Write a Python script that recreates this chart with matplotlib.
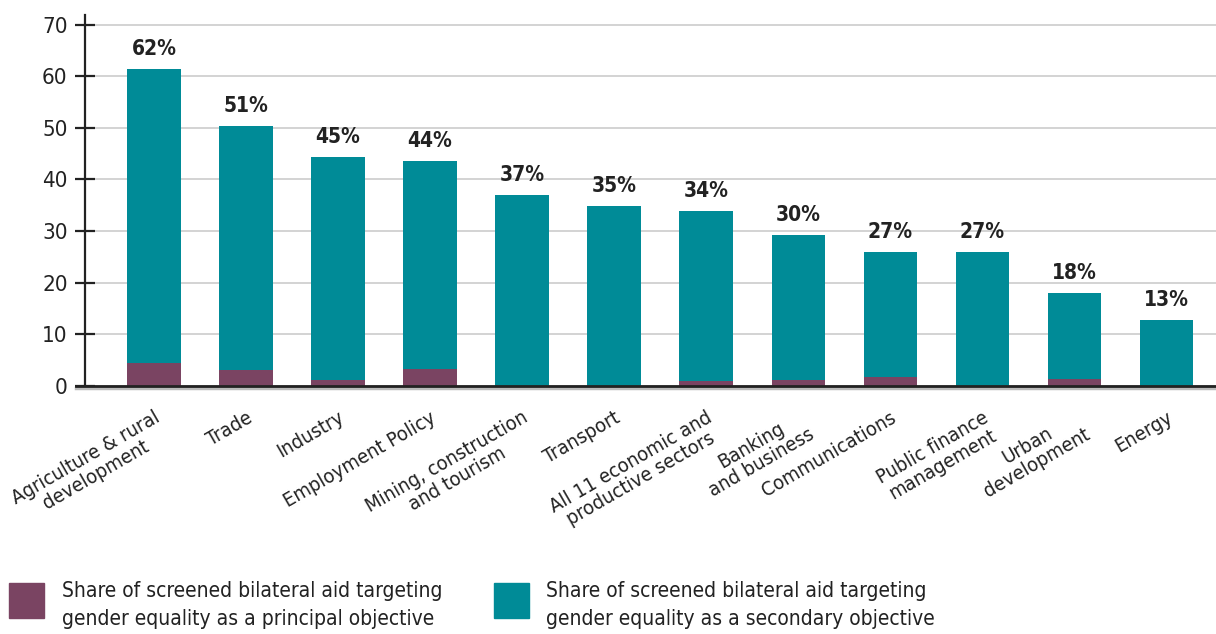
import matplotlib
matplotlib.use("Agg")
import matplotlib.pyplot as plt
from matplotlib.patches import Rectangle
import numpy as np

categories = [
    "Agriculture & rural\ndevelopment", "Trade", "Industry", "Employment Policy",
    "Mining, construction\nand tourism", "Transport", "All 11 economic and\nproductive sectors",
    "Banking\nand business", "Communications", "Public finance\nmanagement",
    "Urban\ndevelopment", "Energy",
]
total = [61.5, 50.4, 44.4, 43.6, 37.0, 34.9, 33.9, 29.3, 26.0, 26.0, 18.0, 12.8]
principal = [4.4, 3.1, 1.2, 3.2, 0.0, 0.0, 0.9, 1.2, 1.6, 0.0, 1.3, 0.0]
labels = ["62%", "51%", "45%", "44%", "37%", "35%", "34%", "30%", "27%", "27%", "18%", "13%"]
yticks = [0, 10, 20, 30, 40, 50, 60, 70]
legend_labels = [
    "Share of screened bilateral aid targeting\ngender equality as a principal objective",
    "Share of screened bilateral aid targeting\ngender equality as a secondary objective",
]

TEAL = "#008B97"
PURPLE = "#7A4462"
plt.rcParams["font.family"] = ["DejaVu Sans"]
plt.rcParams["font.stretch"] = "condensed"

secondary = [t - p for t, p in zip(total, principal)]
x = np.arange(len(categories))

fig = plt.figure(figsize=(12.16, 6.34), dpi=100)
ax = fig.add_axes([85 / 1216, 1 - 385.7 / 634, 1 - 85 / 1216, (385.7 - 14.5) / 634])

ax.bar(x, principal, width=0.58, color=PURPLE, zorder=3)
ax.bar(x, secondary, width=0.58, bottom=principal, color=TEAL, zorder=3)

for xi, t, lab in zip(x, total, labels):
    ax.annotate(lab, (xi, t), xytext=(0, 7), textcoords="offset points",
                ha="center", va="bottom", fontsize=15, fontweight="bold", color="#222222")

ax.set_xlim(-0.75, 11.54)
ax.set_ylim(0, 72)
ax.set_yticks(yticks)
ax.set_yticklabels([str(v) for v in yticks], fontsize=16, color="#222222")
ax.yaxis.grid(True, color="#cccccc", linewidth=1.2, zorder=0)
ax.tick_params(axis="y", direction="inout", length=15, width=1.6, color="#222222", pad=5)
ax.set_xticks(x)
ax.set_xticklabels(categories, rotation=30, ha="right", va="top", rotation_mode="anchor",
                   fontsize=14.5, color="#222222", multialignment="center")
ax.tick_params(axis="x", length=0, pad=16)
for lbl in ax.get_xticklabels():
    lbl.set_linespacing(1.05)

for s in ["top", "right", "bottom"]:
    ax.spines[s].set_visible(False)
ax.spines["left"].set_linewidth(1.6)
ax.spines["left"].set_color("#222222")

ax.axhline(-0.35, xmin=-0.008, xmax=1, color="#bbbbbb", linewidth=2.5, clip_on=False, zorder=4)
ax.axhline(0, xmin=-0.008, xmax=1, color="#222222", linewidth=2.0, clip_on=False, zorder=5)

# legend
W, H = 1216, 634
for (px, tx), col, lab in zip([(9, 62), (494, 546)], [PURPLE, TEAL], legend_labels):
    fig.add_artist(Rectangle((px / W, 1 - 618 / H), 35 / W, 35 / H,
                             transform=fig.transFigure, color=col))
    fig.text(tx / W, 1 - 605 / H, lab, fontsize=15, color="#222222",
             ha="left", va="center", linespacing=1.45)

fig.savefig("out.png", dpi=100)
